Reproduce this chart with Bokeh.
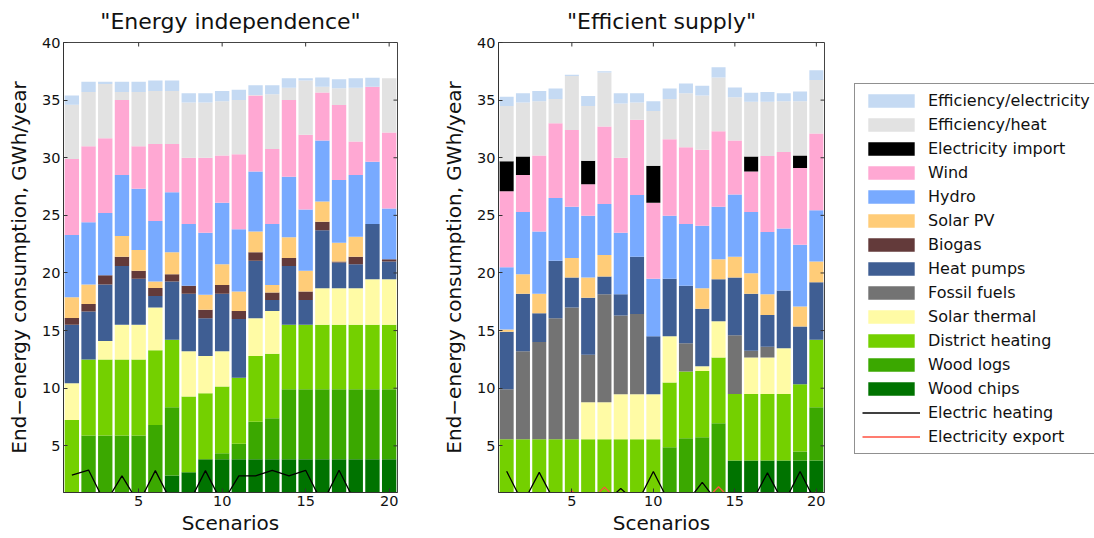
from bokeh.plotting import figure
from bokeh.models import ColumnDataSource, Range1d, FixedTicker, Legend, LegendItem
from bokeh.layouts import row
from bokeh.embed import file_html
from bokeh.resources import INLINE

FONT = "DejaVu Sans"
NAN = float("nan")

scenarios = list(range(1, 21))
y_ticks = [5, 10, 15, 20, 25, 30, 35, 40]
x_ticks = [5, 10, 15, 20]
X_MIN, X_MAX = 0.5, 20.5
Y_MIN, Y_MAX = 0.95, 40

# stack order (bottom -> top)
keys = ["chips", "logs", "dh", "st", "fossil", "hp", "biogas", "pv", "hydro", "wind", "imp", "effheat", "effelec"]
names = ["Wood chips", "Wood logs", "District heating", "Solar thermal", "Fossil fuels", "Heat pumps",
         "Biogas", "Solar PV", "Hydro", "Wind", "Electricity import", "Efficiency/heat", "Efficiency/electricity"]
colors = ["#007300", "#3ba800", "#74d000", "#fffba5", "#737373", "#3f5e93",
          "#633a3a", "#ffcc78", "#78aaff", "#ffa8d3", "#000000", "#e2e2e2", "#c5daf3"]
heat_color = "#000000"
export_color = "#ff5040"

# ---- "Energy independence" ----
ei_chips = [0, 0, 0, 0, 0, 0, 2.43, 2.7, 3.84, 3.84, 3.84, 3.84, 3.84, 3.84, 3.84, 3.84, 3.84, 3.84, 3.84, 3.84]
ei_logs = [0, 5.9, 5.9, 5.9, 5.9, 6.8, 5.92, 0, 0, 0.52, 1.33, 3.26, 3.56, 6.06, 6.06, 6.06, 6.06, 6.06, 6.06, 6.06]
ei_dh = [7.25, 6.6, 6.6, 6.6, 6.6, 6.5, 5.85, 6.58, 5.73, 5.78, 5.73, 5.7, 5.6, 5.6, 5.6, 5.6, 5.6, 5.6, 5.6, 5.6]
ei_st = [3.18, 0, 1.6, 3.0, 3.0, 3.7, 0, 3.92, 3.23, 3.06, 0, 3.27, 3.7, 0, 0, 3.17, 3.17, 3.17, 3.95, 3.95]
ei_fossil = [0] * 20
ei_hp = [5.07, 4.15, 4.9, 5.1, 4.0, 1.0, 5.05, 5.0, 3.27, 5.0, 5.1, 5.0, 0.96, 5.1, 2.16, 5.03, 2.23, 2.08, 4.8, 1.55]
ei_biogas = [0.6, 0.65, 0.8, 0.8, 0.7, 0.7, 0.65, 0.7, 0.73, 0.76, 0.7, 0.73, 0.64, 0.7, 0.74, 0.75, 0.1, 0.65, 0, 0.2]
ei_pv = [1.8, 1.7, 0, 1.8, 1.8, 0.55, 1.9, 0, 1.3, 1.79, 1.7, 1.8, 0.66, 1.8, 1.8, 1.75, 1.63, 1.75, 0, 0]
ei_hydro = [5.4, 5.4, 5.4, 5.3, 5.3, 5.25, 5.2, 5.35, 5.4, 5.35, 5.4, 5.2, 5.29, 5.25, 5.3, 5.3, 5.43, 5.35, 5.4, 4.4]
ei_wind = [6.6, 6.6, 6.5, 6.5, 3.7, 6.7, 4.2, 5.75, 6.5, 4.1, 6.5, 6.6, 6.5, 6.65, 6.5, 4.16, 6.51, 2.9, 6.5, 6.6]
ei_import = [0] * 20
ei_effheat = [4.7, 4.7, 4.7, 0.7, 4.7, 4.6, 4.6, 4.8, 4.8, 4.7, 4.7, 0.05, 4.75, 1.07, 4.7, 0.5, 1.45, 4.67, 0, 4.7]
ei_effelec = [0.8, 0.9, 0.2, 0.9, 0.9, 0.9, 0.9, 0.8, 0.8, 0.9, 0.9, 0.85, 0.8, 0.83, 0.2, 0.8, 0.8, 0.83, 0.8, 0]
ei_elec_heating = [2.45, 2.9, 0, 2.4, 0, 2.85, 0, 0, 2.85, 0, 2.4, 2.4, 2.88, 2.4, 2.88, 0, 2.88, 0, 0, 0]
ei_elec_export = [0] * 20

# ---- "Efficient supply" ----
es_chips = [0, 0, 0, 0, 0, 0, 0, 0, 0, 0, 0, 0, 0, 0, 3.73, 3.73, 3.73, 3.73, 3.73, 3.73]
es_logs = [0, 0, 0, 0, 0, 0, 0, 0, 0, 0, 4.88, 5.66, 5.75, 6.97, 0, 0, 0, 0, 0.77, 4.62]
es_dh = [5.58, 5.58, 5.58, 5.58, 5.58, 5.58, 5.58, 5.58, 5.58, 5.58, 5.62, 5.79, 5.75, 5.69, 5.77, 5.77, 5.77, 5.77, 5.85, 5.85]
es_st = [0, 0, 0, 0, 0, 3.21, 3.21, 3.9, 3.9, 3.9, 4.0, 0, 0.4, 3.14, 0, 3.16, 3.16, 3.97, 0, 0]
es_fossil = [4.33, 7.62, 8.42, 10.49, 11.42, 4.11, 9.36, 6.82, 6.97, 0, 0, 2.45, 0, 0, 5.1, 0.58, 0.94, 0, 0, 0]
es_hp = [4.99, 5.0, 2.5, 5.0, 2.6, 4.96, 1.55, 1.85, 4.95, 5.02, 5.0, 5.0, 5.0, 3.65, 5.0, 4.96, 2.76, 5.0, 5.0, 5.0]
es_biogas = [0] * 20
es_pv = [0.2, 1.7, 1.7, 0, 1.7, 1.74, 1.86, 0, 0, 0, 0, 0, 1.77, 1.75, 1.8, 1.77, 1.79, 0, 1.75, 1.8]
es_hydro = [5.4, 5.4, 5.4, 5.43, 4.45, 5.37, 4.42, 5.35, 5.36, 5.0, 5.47, 5.35, 5.43, 4.55, 5.4, 5.33, 5.4, 5.38, 5.35, 4.45]
es_wind = [6.6, 3.2, 6.6, 6.5, 6.65, 2.73, 6.72, 6.5, 6.54, 6.6, 6.63, 6.65, 6.6, 6.55, 4.7, 3.5, 6.6, 6.65, 6.65, 6.65]
es_import = [2.6, 1.6, 0, 0, 0, 2.04, 0, 0, 0, 3.2, 0, 0, 0, 0, 0, 1.3, 0, 0, 1.1, 0]
es_effheat = [4.8, 4.7, 4.7, 2.1, 4.7, 4.76, 4.7, 4.7, 1.5, 4.75, 3.5, 4.7, 4.7, 4.66, 3.75, 4.75, 4.7, 4.4, 4.7, 4.65]
es_effelec = [0.8, 0.8, 0.9, 0.9, 0.1, 0.85, 0.1, 0.9, 0.8, 0.85, 0.9, 0.85, 0.85, 0.9, 0.85, 0.8, 0.85, 0.7, 0.85, 0.85]
es_elec_heating = [2.8, 0, 2.7, 0, 0, 0, 0, 1.3, 0, 2.77, 0, 0, 1.83, 0, 0, 0, 2.65, 0, 2.77, 0]
es_elec_export = [0, 0, 0, 0, 1.07, 0, 1.42, 0, 0, 0, 0, 0, 0, 1.45, 0, 0, 0, 0, 0, 1.0]

ei_layers = [ei_chips, ei_logs, ei_dh, ei_st, ei_fossil, ei_hp, ei_biogas, ei_pv, ei_hydro, ei_wind,
             ei_import, ei_effheat, ei_effelec]
es_layers = [es_chips, es_logs, es_dh, es_st, es_fossil, es_hp, es_biogas, es_pv, es_hydro, es_wind,
             es_import, es_effheat, es_effelec]

H = 538
BORDER_TOP = 42
BORDER_BOTTOM = 46
FRAME_H = H - BORDER_TOP - BORDER_BOTTOM
TICK_PX = 4


def make_panel(title, layers, heat, export, width, border_left, border_right):
    p = figure(width=width, height=H, output_backend="svg", toolbar_location=None,
               x_range=Range1d(X_MIN, X_MAX), y_range=Range1d(Y_MIN, Y_MAX),
               min_border_left=border_left, min_border_right=border_right,
               min_border_top=BORDER_TOP, min_border_bottom=BORDER_BOTTOM)
    data = dict(x=scenarios)
    for k, v in zip(keys, layers):
        data[k] = v
    src = ColumnDataSource(data)
    p.vbar_stack(stackers=keys, x="x", width=0.86, fill_color=colors, line_color=None, source=src)
    p.line(scenarios, heat, line_color=heat_color, line_width=1.3)
    p.line(scenarios, export, line_color=export_color, line_width=1.3)

    # inward tick marks on the top and right edges of the box
    frame_w = width - border_left - border_right
    dy = TICK_PX * (Y_MAX - Y_MIN) / FRAME_H
    dx = TICK_PX * (X_MAX - X_MIN) / frame_w
    p.segment(x0=x_ticks, y0=[Y_MAX] * len(x_ticks), x1=x_ticks, y1=[Y_MAX - dy] * len(x_ticks),
              line_color="#333333", line_width=1)
    p.segment(x0=[X_MAX] * len(y_ticks), y0=y_ticks, x1=[X_MAX - dx] * len(y_ticks), y1=y_ticks,
              line_color="#333333", line_width=1)

    p.title.text = title
    p.title.align = "center"
    p.title.vertical_align = "top"
    p.title.standoff = 14
    p.title.text_font = FONT
    p.title.text_font_size = "22px"
    p.title.text_font_style = "normal"
    p.title.text_color = "#111111"

    p.grid.visible = False
    p.outline_line_color = "#444444"
    p.background_fill_color = "white"
    p.border_fill_color = "white"

    p.xaxis.ticker = FixedTicker(ticks=x_ticks)
    p.yaxis.ticker = FixedTicker(ticks=y_ticks)
    for ax in (p.xaxis[0], p.yaxis[0]):
        ax.major_tick_in = TICK_PX
        ax.major_tick_out = 0
        ax.minor_tick_line_color = None
        ax.axis_line_color = "#333333"
        ax.major_tick_line_color = "#333333"
        ax.major_label_text_font = FONT
        ax.major_label_text_font_size = "14.5px"
        ax.major_label_text_color = "#111111"
        ax.major_label_standoff = 3
        ax.axis_label_text_font = FONT
        ax.axis_label_text_font_style = "normal"
        ax.axis_label_text_color = "#111111"
    p.xaxis.axis_label = "Scenarios"
    p.xaxis.axis_label_text_font_size = "20px"
    p.xaxis.axis_label_standoff = 2
    p.yaxis.axis_label = "End\u2212energy consumption, GWh/year"
    p.yaxis.axis_label_text_font_size = "20px"
    p.yaxis.axis_label_standoff = 8
    return p


p1 = make_panel('"Energy independence"', ei_layers, ei_elec_heating, ei_elec_export, 439, 63, 42)
p2 = make_panel('"Efficient supply"', es_layers, es_elec_heating, es_elec_export, 405, 53, 20)

# legend panel (its frame is aligned with the two charts by the row layout)
q = figure(width=1094 - 439 - 405, height=H, output_backend="svg", toolbar_location=None,
           x_axis_type=None, y_axis_type=None, x_range=Range1d(0, 1), y_range=Range1d(0, 1),
           min_border_left=10, min_border_top=BORDER_TOP, min_border_right=0,
           min_border_bottom=BORDER_BOTTOM)
q.grid.visible = False
q.outline_line_color = None

items = []
for name, c in reversed(list(zip(names, colors))):
    r = q.vbar(x=[NAN], top=[NAN], width=0.5, fill_color=c, line_color=None)
    items.append(LegendItem(label=name, renderers=[r]))
rh = q.line(x=[NAN, NAN], y=[NAN, NAN], line_color=heat_color, line_width=1.5)
items.append(LegendItem(label="Electric heating", renderers=[rh]))
rx = q.line(x=[NAN, NAN], y=[NAN, NAN], line_color=export_color, line_width=1.5)
items.append(LegendItem(label="Electricity export", renderers=[rx]))

legend = Legend(items=items, location=(0, 38), margin=0, padding=7, spacing=5,
                glyph_width=58, glyph_height=17, label_standoff=8, label_height=17,
                label_text_font=FONT, label_text_font_size="16px", label_text_color="#111111",
                border_line_color="#222222", border_line_width=1, background_fill_color="white",
                background_fill_alpha=1.0)
q.add_layout(legend, "center")

layout = row(p1, p2, q)
open("out.html", "w").write(file_html(layout, INLINE))
